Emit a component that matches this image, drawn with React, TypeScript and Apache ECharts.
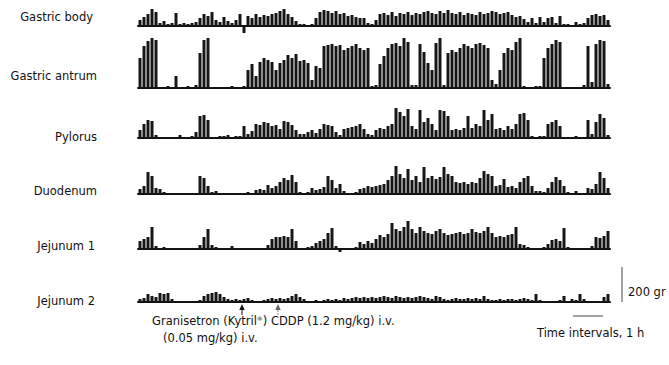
import React, { useEffect, useRef } from "react";
import * as echarts from "echarts";

// One bin = 1/118 of the recording (≈ 4 px in the figure)
const timeBins: string[] = Array.from({ length: 118 }, (_, i) => String(i));

const traceLabels = ["Gastric body", "Gastric antrum", "Pylorus", "Duodenum", "Jejunum 1", "Jejunum 2"];

const gastricBody = [
  6, 9, 12, 17, 14, 3, 5, 2, 3, 13, 2, 3, 2, 3, 4, 8, 12, 10, 14, 6,
  4, 9, 5, 3, 6, 12, -7, 10, 8, 12, 9, 11, 10, 12, 13, 15, 17, 12, 9, 5,
  2, 2, 1, 2, 8, 14, 16, 15, 13, 15, 12, 13, 10, 11, 9, 8, 8, 3, 2, 6,
  12, 13, 11, 14, 10, 13, 12, 14, 11, 13, 12, 14, 15, 13, 12, 15, 13, 16, 13, 12,
  14, 11, 13, 12, 11, 14, 12, 13, 15, 14, 12, 13, 14, 11, 9, 10, 7, 4, 8, 3,
  9, 4, 8, 9, 3, 10, 2, 2, 1, 4, 2, 3, 8, 11, 12, 10, 11, 6,
];

const gastricAntrum = [
  30, 42, 47, 50, 48, 1, 1, 2, 1, 12, 1, 1, 2, 1, 3, 35, 48, 50, 1, 1,
  1, 1, 1, 2, 1, 1, 2, 18, 24, 12, 26, 30, 28, 26, 18, 25, 28, 33, 30, 34,
  27, 28, 25, 8, 22, 20, 42, 43, 44, 42, 43, 38, 40, 42, 44, 40, 38, 40, 2, 3,
  24, 32, 40, 44, 45, 42, 50, 46, 3, 3, 44, 36, 25, 18, 45, 50, 3, 35, 38, 36,
  40, 44, 42, 40, 44, 45, 43, 40, 8, 4, 18, 35, 40, 38, 46, 50, 2, 1, 1, 2,
  2, 30, 40, 44, 48, 46, 1, 1, 1, 1, 1, 3, 42, 6, 44, 48, 47, 4,
];

const pylorus = [
  8, 14, 18, 17, 3, 1, 1, 1, 1, 1, 3, 1, 1, 2, 6, 22, 23, 18, 1, 1,
  2, 2, 3, 1, 2, 2, 12, 4, 7, 14, 13, 16, 15, 12, 13, 9, 17, 16, 13, 8,
  4, 4, 6, 8, 5, 9, 14, 13, 12, 6, 3, 9, 10, 11, 12, 14, 9, 4, 3, 8,
  10, 9, 12, 14, 30, 26, 22, 29, 12, 9, 28, 16, 20, 14, 8, 28, 27, 22, 8, 9,
  8, 10, 22, 10, 14, 12, 28, 18, 24, 9, 10, 8, 12, 9, 14, 24, 25, 18, 2, 1,
  2, 2, 14, 16, 18, 12, 1, 1, 1, 2, 1, 1, 18, 4, 16, 24, 20, 3,
];

const duodenum = [
  5, 8, 22, 18, 6, 5, 2, 1, 1, 1, 1, 1, 1, 1, 1, 18, 16, 8, 2, 3,
  1, 1, 1, 1, 1, 1, 1, 2, 1, 4, 5, 4, 9, 6, 8, 12, 16, 14, 19, 12,
  2, 1, 2, 6, 4, 5, 7, 18, 14, 6, 10, 3, 1, 1, 2, 5, 6, 8, 7, 8,
  9, 10, 14, 18, 28, 20, 16, 25, 14, 18, 12, 27, 16, 18, 15, 17, 27, 20, 18, 12,
  11, 12, 10, 12, 11, 16, 23, 20, 18, 8, 9, 15, 7, 8, 6, 12, 16, 18, 8, 3,
  3, 2, 6, 12, 17, 14, 8, 2, 1, 3, 1, 1, 6, 5, 10, 22, 16, 6,
];

const jejunum1 = [
  8, 10, 12, 22, 3, 1, 2, 1, 1, 1, 1, 1, 1, 1, 1, 4, 12, 20, 4, 2,
  1, 1, 1, 3, 1, 1, 1, 1, 1, 1, 1, 1, 4, 10, 12, 12, 13, 12, 20, 8,
  1, 1, 2, 3, 6, 8, 10, 16, 21, 3, -3, 1, 1, 1, 2, 7, 5, 8, 6, 10,
  14, 12, 15, 26, 20, 18, 22, 28, 20, 16, 22, 18, 16, 15, 18, 20, 16, 14, 15, 16,
  17, 15, 16, 20, 17, 16, 18, 22, 16, 12, 13, 12, 14, 15, 22, 5, 4, 2, 1, 1,
  1, 2, 5, 9, 10, 8, 21, 2, 1, 1, 1, 1, 1, 3, 12, 11, 13, 18,
];

const jejunum2 = [
  3, 4, 8, 6, 5, 9, 8, 9, 3, 1, 1, 1, 1, 1, 1, 2, 6, 8, 9, 10,
  8, 5, 3, 2, 3, 2, 3, 4, 2, 1, 1, 2, 3, 4, 3, 4, 3, 4, 6, 8,
  5, 3, 1, 1, 2, 1, 2, 3, 2, 3, 2, 4, 3, 4, 5, 4, 5, 4, 5, 4,
  5, 6, 5, 4, 6, 5, 4, 5, 4, 5, 6, 5, 4, 3, 6, 5, 3, 2, 3, 4,
  3, 3, 4, 3, 4, 3, 6, 3, 2, 2, 3, 2, 3, 3, 2, 3, 4, 3, 2, 8,
  2, 1, 1, 1, 1, 2, 6, 1, 3, 2, 8, 3, 1, 1, 1, 1, 5, 8,
];

const traces = [gastricBody, gastricAntrum, pylorus, duodenum, jejunum1, jejunum2];

// layout: baseline y (px), value range of each strip, label position
const strips = [
  { base: 26, max: 18, min: -8, labelX: 93, labelY: 17 },
  { base: 88, max: 52, min: 0, labelX: 97, labelY: 76 },
  { base: 138, max: 32, min: 0, labelX: 97, labelY: 137 },
  { base: 194, max: 30, min: 0, labelX: 97, labelY: 191 },
  { base: 249, max: 30, min: -4, labelX: 95, labelY: 246 },
  { base: 302, max: 12, min: 0, labelX: 95, labelY: 301 },
];

const FONT = "'DejaVu Sans', Verdana, sans-serif";
const FS = 11.5;

export default function App() {
  const ref = useRef<HTMLDivElement>(null);
  useEffect(() => {
    if (!ref.current) return;
    const chart = echarts.init(ref.current, undefined, { renderer: "svg" });
    const grid = strips.map((s) => ({
      left: 138,
      width: 472,
      top: s.base - s.max,
      height: s.max - s.min,
    }));
    const xAxis = strips.map((_, i) => ({
      type: "category",
      gridIndex: i,
      data: timeBins,
      axisLine: { show: true, onZero: true, lineStyle: { color: "#111", width: 2 } },
      axisTick: { show: false },
      axisLabel: { show: false },
      splitLine: { show: false },
    }));
    const yAxis = strips.map((s, i) => ({
      type: "value",
      gridIndex: i,
      min: s.min,
      max: s.max,
      show: false,
      splitLine: { show: false },
    }));
    const series = traces.map((d, i) => ({
      type: "bar",
      name: traceLabels[i],
      xAxisIndex: i,
      yAxisIndex: i,
      data: d,
      barWidth: 3,
      itemStyle: { color: "#161616" },
      silent: true,
    }));
    const labels = traceLabels.map((t, i) => ({
      type: "text",
      x: strips[i].labelX,
      y: strips[i].labelY,
      style: {
        text: t,
        fill: "#111",
        font: `${FS}px ${FONT}`,
        textAlign: "right",
        textVerticalAlign: "middle",
      },
    }));
    chart.setOption({
      animation: false,
      backgroundColor: "#fff",
      grid,
      xAxis,
      yAxis,
      series,
      graphic: [
        ...labels,
        // arrows
        { type: "line", z: 10, shape: { x1: 242, y1: 315, x2: 242, y2: 307 }, style: { stroke: "#111", lineWidth: 1 } },
        { type: "polygon", z: 10, shape: { points: [[242, 304], [239.3, 310], [244.7, 310]] }, style: { fill: "#111" } },
        { type: "line", z: 10, shape: { x1: 278, y1: 315, x2: 278, y2: 307 }, style: { stroke: "#888", lineWidth: 1, lineDash: [2, 1] } },
        { type: "polygon", z: 10, shape: { points: [[278, 304], [275.3, 310], [280.7, 310]] }, style: { fill: "#666" } },
        // scale bars
        { type: "line", shape: { x1: 622, y1: 267, x2: 622, y2: 302 }, style: { stroke: "#666", lineWidth: 1.2 } },
        { type: "line", shape: { x1: 573, y1: 316, x2: 603, y2: 316 }, style: { stroke: "#666", lineWidth: 1.2 } },
        {
          type: "text", x: 628, y: 292,
          style: { text: "200 gr", fill: "#111", font: `${FS}px ${FONT}`, textVerticalAlign: "middle" },
        },
        {
          type: "text", x: 537, y: 333,
          style: { text: "Time intervals, 1 h", fill: "#111", font: `${FS}px ${FONT}`, textVerticalAlign: "middle" },
        },
        {
          type: "text", x: 152, y: 321,
          style: {
            text: "Granisetron (Kytril{s|®}) CDDP (1.2 mg/kg) i.v.",
            rich: { s: { fontSize: 6, verticalAlign: "top", fill: "#111", fontFamily: FONT } },
            fill: "#111", font: `${FS}px ${FONT}`, textVerticalAlign: "middle",
          },
        },
        {
          type: "text", x: 163, y: 338,
          style: { text: "(0.05 mg/kg) i.v.", fill: "#111", font: `${FS}px ${FONT}`, textVerticalAlign: "middle" },
        },
      ],
    });
    return () => chart.dispose();
  }, []);
  return <div ref={ref} style={{ width: 669, height: 365, position: "absolute", left: 0, top: 0 }} />;
}
